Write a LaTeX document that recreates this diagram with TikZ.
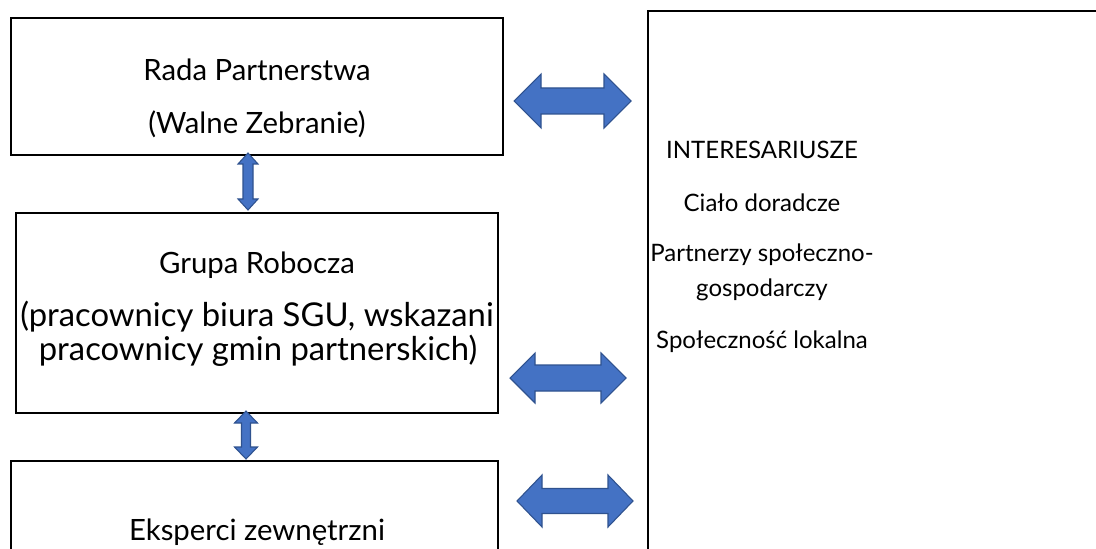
\documentclass[tikz,border=0pt]{standalone}
\usepackage{fontspec}
\setmainfont{Lato}
\begin{document}
\begin{tikzpicture}[x=0.75pt,y=-0.75pt]
\definecolor{arrowfill}{HTML}{4472C4}
\definecolor{arrowedge}{HTML}{2F528F}
\tikzset{
  box/.style={draw=black, line width=1.5pt, fill=white, inner sep=0pt},
  txt/.style={anchor=base, inner sep=0pt, font=\fontsize{22pt}{26pt}\selectfont},
  bigtxt/.style={anchor=base, inner sep=0pt, font=\fontsize{24.6pt}{29pt}\selectfont},
  rtxt/.style={anchor=base, inner sep=0pt, font=\fontsize{18pt}{22pt}\selectfont},
  blockarrow/.style={fill=arrowfill, draw=arrowedge, line width=0.8pt, line join=miter}
}
\useasboundingbox (0,0) rectangle (1096,549);
\clip (0,0) rectangle (1096,549);
\fill[white] (0,0) rectangle (1096,549);
% boxes
\node[box, minimum width=492*0.75pt, minimum height=137*0.75pt] (rada) at (257,86.5) {};
\node[box, minimum width=482*0.75pt, minimum height=200*0.75pt] (grupa) at (257,313) {};
\node[box, minimum width=487*0.75pt, minimum height=139*0.75pt] (eksp) at (254.5,530.5) {};
\node[box, minimum width=900*0.75pt, minimum height=800*0.75pt] (inter) at (1098,411) {};
% texts
\node[txt] (t1) at (257,81) {Rada Partnerstwa};
\node[txt] (t2) at (257,134) {(Walne Zebranie)};
\node[txt] (t3) at (257,273) {Grupa Robocza};
\node[bigtxt] (t4) at (257,326) {(pracownicy biura SGU, wskazani};
\node[bigtxt] (t5) at (258,360) {pracownicy gmin partnerskich)};
\node[txt] (t6) at (257,540) {Eksperci zewnętrzni};
\node[rtxt] (t7) at (762,159) {INTERESARIUSZE};
\node[rtxt] (t8) at (762,212) {Ciało doradcze};
\node[rtxt] (t9) at (762,262) {Partnerzy społeczno-};
\node[rtxt] (t10) at (762,296) {gospodarczy};
\node[rtxt] (t11) at (762,348) {Społeczność lokalna};
% horizontal double arrows
\draw[blockarrow] (514,101) -- (541,74) -- (541,88) -- (604,88) -- (604,74) -- (631,101)
  -- (604,128) -- (604,114) -- (541,114) -- (541,128) -- cycle;
\draw[blockarrow] (510,378) -- (535,353) -- (535,365) -- (601,365) -- (601,353) -- (626,378)
  -- (601,403) -- (601,391) -- (535,391) -- (535,403) -- cycle;
\draw[blockarrow] (517,501) -- (542,475) -- (542,488.5) -- (608,488.5) -- (608,475) -- (633,501)
  -- (608,527) -- (608,513.5) -- (542,513.5) -- (542,527) -- cycle;
% vertical double arrows
\draw[blockarrow] (248,153) -- (258,164) -- (253,164) -- (253,199) -- (258,199) -- (248,210)
  -- (238,199) -- (243,199) -- (243,164) -- (238,164) -- cycle;
\draw[blockarrow] (246,411) -- (257.5,423) -- (250.5,423) -- (250.5,447) -- (257.5,447) -- (246,459)
  -- (234.5,447) -- (241.5,447) -- (241.5,423) -- (234.5,423) -- cycle;
\end{tikzpicture}
\end{document}
